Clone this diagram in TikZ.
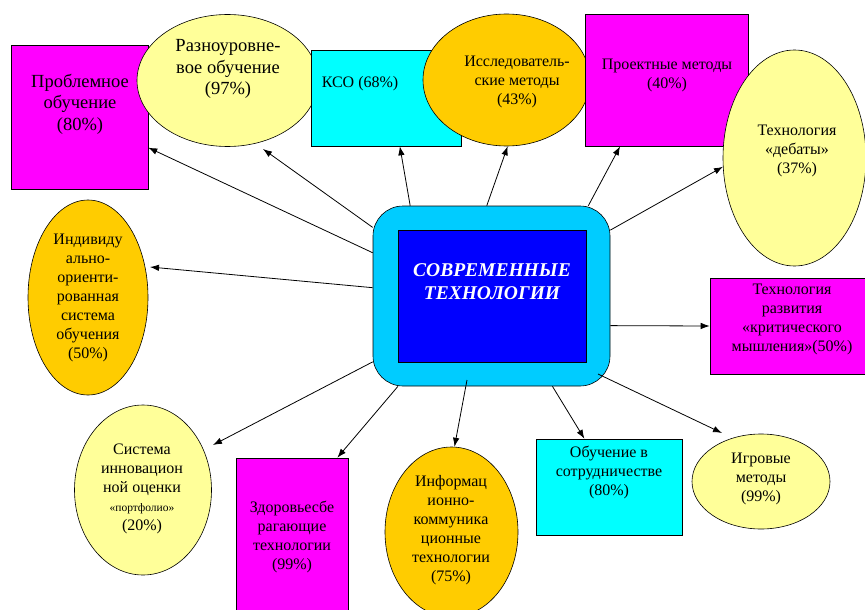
\documentclass[tikz,border=0pt]{standalone}
\usepackage{fontspec}
\setmainfont{Liberation Serif}
\usetikzlibrary{shapes.geometric,arrows.meta}

\definecolor{pinkbox}{RGB}{255,0,255}
\definecolor{paleyellow}{RGB}{255,255,153}
\definecolor{aquabox}{RGB}{0,255,255}
\definecolor{amberell}{RGB}{255,204,0}
\definecolor{skyframe}{RGB}{0,204,255}
\definecolor{deepblue}{RGB}{0,0,255}

\begin{document}
\begin{tikzpicture}[x=1pt, y=-1pt,
	rbox/.style 2 args={draw, rectangle, line width=0.6pt, minimum width=#1, minimum height=#2, inner sep=0pt},
	oval/.style 2 args={draw, ellipse, line width=0.6pt, minimum width=#1, minimum height=#2, inner sep=0pt},
	txt/.style={align=center, inner sep=0pt, font=\rmfamily\fontsize{16}{19}\selectfont},
	bigtxt/.style={align=center, inner sep=0pt, font=\rmfamily\fontsize{18.5}{21.5}\selectfont},
	link/.style={line width=0.8pt, -{Latex[length=9pt,width=6.5pt]}}]
	\useasboundingbox (0,0) rectangle (865,610);
	\clip (0,0) rectangle (865,610);

	\node[rbox={137}{144}, fill=pinkbox] (prob) at (79.5,117) {};
	\node[oval={181}{132}, fill=paleyellow] (raz) at (227.5,80.5) {};
	\node[rbox={150}{96}, fill=aquabox] (kso) at (386,98) {};
	\node[oval={167}{132}, fill=amberell] (issl) at (506.5,80) {};
	\node[rbox={163}{132}, fill=pinkbox] (proj) at (666.5,80) {};
	\node[oval={143}{216}, fill=paleyellow] (deb) at (794.5,158) {};
	\node[oval={120}{195}, fill=amberell] (ind) at (88,297.5) {};
	\node[draw, line width=0.6pt, rounded corners=30pt, fill=skyframe, minimum width=237, minimum height=180, inner sep=0pt] (tech) at (491.5,296) {};
	\node[rbox={188}{132}, fill=deepblue] (core) at (492,296) {};
	\node[rbox={155}{96}, fill=pinkbox] (krit) at (787.5,326) {};
	\node[oval={137}{170}, fill=paleyellow] (sys) at (143,490) {};
	\node[rbox={112}{170}, fill=pinkbox] (zdor) at (292,543) {};
	\node[oval={133}{170}, fill=amberell] (inf) at (451.5,532) {};
	\node[rbox={146}{96}, fill=aquabox] (obu) at (609,487) {};
	\node[oval={138}{95}, fill=paleyellow] (igr) at (761,481.5) {};

	\node[bigtxt] (probtext) at (80,104) {Проблемное\\обучение\\(80\%)};
	\node[bigtxt] (raztext) at (228,69) {Разноуровне-\\вое обучение\\(97\%)};
	\node[txt] (ksotext) at (360,84) {КСО (68\%)};
	\node[txt] (issltext) at (517,82) {Исследователь-\\ские методы\\(43\%)};
	\node[txt] (projtext) at (667,75) {Проектные методы\\(40\%)};
	\node[txt] (debtext) at (797,151) {Технология\\«дебаты»\\(37\%)};
	\node[txt] (indtext) at (88,298) {Индивиду\\ально-\\ориенти-\\рованная\\система\\обучения\\(50\%)};
	\node[align=center, inner sep=0pt, text=white, font=\rmfamily\fontsize{19.5}{23}\bfseries\itshape] (coretext) at (492,282) {СОВРЕМЕННЫЕ\\ТЕХНОЛОГИИ};
	\node[txt] (krittext) at (792,319) {Технология\\развития\\«критического\\мышления»(50\%)};
	\node[txt] (systext) at (142,489) {Система\\инновацион\\ной оценки\\{\fontsize{11.5}{18}\selectfont «портфолио»}\\(20\%)};
	\node[txt] (zdortext) at (292,537) {Здоровьесбе\\рагающие\\технологии\\(99\%)};
	\node[txt] (inftext) at (451,530) {Информац\\ионно-\\коммуника\\ционные\\технологии\\(75\%)};
	\node[txt] (obutext) at (609,472) {Обучение в\\сотрудничестве\\(80\%)};
	\node[txt] (igrtext) at (761,479) {Игровые\\методы\\(99\%)};

	\draw[link] (tech.160) -- (prob.-24);
	\draw[link] (tech.150.5) -- ([shift={(35.5,68.5)}]raz.center);
	\draw[link] (tech.132) -- (kso.-74);
	\draw[link] (tech.93.5) -- (issl.-89);
	\draw[link] (tech.43) -- (proj.-125);
	\draw[link] (tech.29) -- (deb.187);
	\draw[link] (tech.176.6) -- ([shift={(62,-30.5)}]ind.center);
	\draw[link] (tech.-14) -- (krit.west);
	\draw[link] ([shift={(106.5,78)}]tech.center) -- ([shift={(-39,-48.5)}]igr.center);
	\draw[link] (tech.-56) -- (obu.117);
	\draw[link] ([shift={(-24.5,84)}]tech.center) -- (inf.88);
	\draw[link] (tech.-136) -- (zdor.62);
	\draw[link] (tech.-151) -- ([shift={(70,-45)}]sys.center);
\end{tikzpicture}
\end{document}
